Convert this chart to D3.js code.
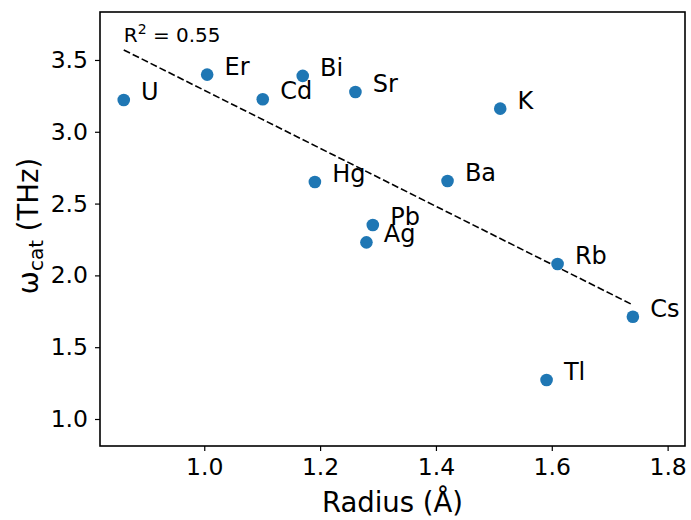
<!DOCTYPE html>
<html>
<head>
<meta charset="utf-8">
<script src="https://cdn.jsdelivr.net/npm/d3@7"></script>
<style>
  body { margin: 0; background: #fff; }
  text { font-family: "DejaVu Sans", sans-serif; }
</style>
</head>
<body>
<div id="viz"></div>
<script>
// element labels, ionic radius (Å) and omega_cat (THz)
const elements = ["U", "Er", "Cd", "Bi", "Sr", "K", "Hg", "Ba", "Pb", "Ag", "Rb", "Cs", "Tl"];
const radius   = [0.861, 1.005, 1.101, 1.170, 1.261, 1.511, 1.191, 1.420, 1.291, 1.280, 1.610, 1.740, 1.591];
const omegaCat = [3.221, 3.398, 3.226, 3.389, 3.277, 3.161, 2.650, 2.657, 2.351, 2.230, 2.079, 1.712, 1.272];

// linear fit shown as dashed line
const fitIntercept = 5.309;
const fitSlope = -2.02;
const rSquared = "0.55";

const xTicks = [1.0, 1.2, 1.4, 1.6, 1.8];
const yTicks = [1.0, 1.5, 2.0, 2.5, 3.0, 3.5];

const totalW = 691, totalH = 520;
const margin = {left: 100, top: 12, right: 6, bottom: 74};
const width = totalW - margin.left - margin.right;
const height = totalH - margin.top - margin.bottom;

const data = elements.map((el, i) => ({el: el, r: radius[i], w: omegaCat[i]}));

const svg = d3.select("#viz").append("svg")
    .attr("width", totalW)
    .attr("height", totalH);
const g = svg.append("g")
    .attr("transform", "translate(" + margin.left + "," + margin.top + ")");

const x = d3.scaleLinear().domain([0.820, 1.830]).range([0, width]);
const y = d3.scaleLinear().domain([0.812, 3.834]).range([height, 0]);

// axes
const xAxis = d3.axisBottom(x).tickValues(xTicks).tickFormat(d3.format(".1f")).tickSize(5).tickPadding(7);
const yAxis = d3.axisLeft(y).tickValues(yTicks).tickFormat(d3.format(".1f")).tickSize(5).tickPadding(7);

const xg = g.append("g").attr("transform", "translate(0," + height + ")").call(xAxis);
const yg = g.append("g").call(yAxis);
[xg, yg].forEach(a => {
  a.select(".domain").remove();
  a.selectAll(".tick line").attr("stroke", "#000").attr("stroke-width", 1.2);
  a.selectAll(".tick text").attr("fill", "#000").style("font-size", "23.5px");
});

// frame
g.append("rect")
    .attr("width", width).attr("height", height)
    .attr("fill", "none").attr("stroke", "#000").attr("stroke-width", 1.6);

// fit line over the data range
const [rMin, rMax] = d3.extent(radius);
g.append("line")
    .attr("x1", x(rMin)).attr("y1", y(fitIntercept + fitSlope * rMin))
    .attr("x2", x(rMax)).attr("y2", y(fitIntercept + fitSlope * rMax))
    .attr("stroke", "#000").attr("stroke-width", 1.6)
    .attr("stroke-dasharray", "7,3");

// points
g.selectAll("circle.pt").data(data).enter().append("circle")
    .attr("class", "pt")
    .attr("cx", d => x(d.r)).attr("cy", d => y(d.w))
    .attr("r", 6.3)
    .attr("fill", "#1f77b4");

// labels
g.selectAll("text.lbl").data(data).enter().append("text")
    .attr("class", "lbl")
    .attr("x", d => x(d.r + 0.03)).attr("y", d => y(d.w))
    .style("font-size", "24px")
    .text(d => d.el);

// R^2 annotation
const rt = g.append("text")
    .attr("x", x(rMin)).attr("y", y(fitIntercept + fitSlope * rMin) - 8)
    .style("font-size", "20px");
rt.append("tspan").text("R");
rt.append("tspan").attr("dy", -8).style("font-size", "14px").text("2");
rt.append("tspan").attr("dy", 8).text(" = " + rSquared);

// axis labels
svg.append("text")
    .attr("x", margin.left + width / 2).attr("y", totalH - 8)
    .attr("text-anchor", "middle")
    .style("font-size", "27.5px")
    .text("Radius (Å)");

const yl = svg.append("text")
    .attr("transform", "translate(38," + (margin.top + height / 2 - 3) + ") rotate(-90)")
    .attr("text-anchor", "middle")
    .style("font-size", "27.5px");
yl.append("tspan").text("ω");
yl.append("tspan").attr("dy", 5).style("font-size", "20px").text("cat");
yl.append("tspan").attr("dy", -5).text(" (THz)");
</script>
</body>
</html>
